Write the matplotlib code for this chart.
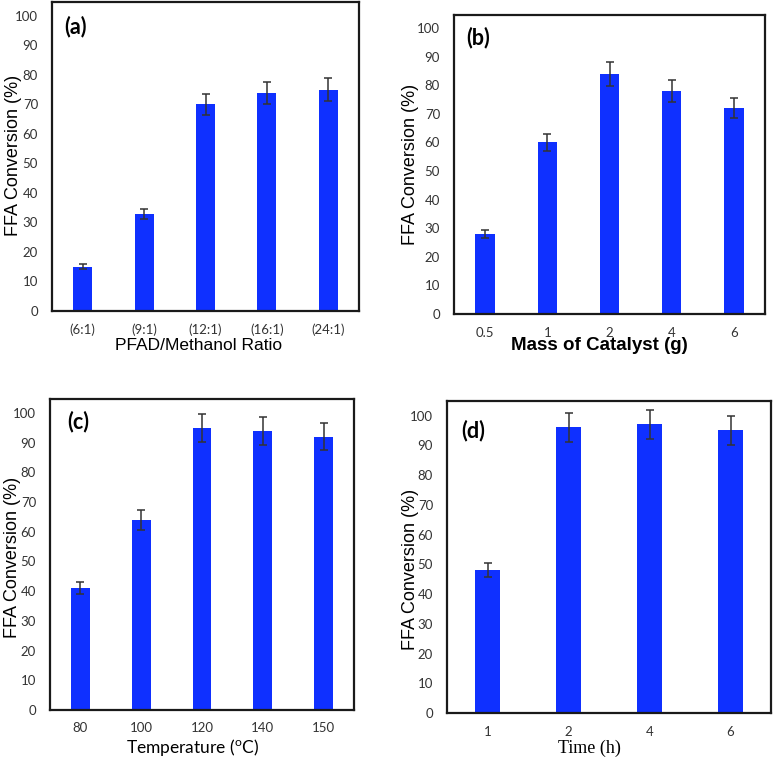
import matplotlib
matplotlib.use("Agg")
import matplotlib.pyplot as plt
import numpy as np

W, H = 773, 760

# ---- data ----
ratio_labels = ["(6:1)", "(9:1)", "(12:1)", "(16:1)", "(24:1)"]
ratio_vals = [15, 33, 70, 74, 75]
ratio_err = [0.8, 1.7, 3.5, 3.7, 3.8]

mass_labels = ["0.5", "1", "2", "4", "6"]
mass_vals = [28, 60, 84, 78, 72]
mass_err = [1.5, 3.0, 4.2, 4.0, 3.6]

temp_labels = ["80", "100", "120", "140", "150"]
temp_vals = [41, 64, 95, 94, 92]
temp_err = [2.1, 3.3, 4.8, 4.7, 4.6]

time_labels = ["1", "2", "4", "6"]
time_vals = [48, 96, 97, 95]
time_err = [2.4, 4.8, 4.9, 4.8]

BAR = "#0f30ff"
ERR = "#333333"
TICKC = "#333333"

fig = plt.figure(figsize=(W / 100, H / 100), dpi=100)


def px_axes(l, t, r, b):
    return fig.add_axes([l / W, 1 - b / H, (r - l) / W, (b - t) / H])


def panel(box, labels, vals, errs, ytop, tag, tagpos):
    ax = px_axes(*box)
    x = np.arange(len(labels))
    ax.bar(x, vals, width=0.31, color=BAR, zorder=2)
    ax.errorbar(x, vals, yerr=errs, fmt="none", ecolor=ERR, elinewidth=1.1,
                capsize=2.7, capthick=1.1, zorder=3)
    ax.set_xlim(-0.5, len(labels) - 0.5)
    ax.set_ylim(0, ytop)
    ax.set_yticks(np.arange(0, 101, 10))
    ax.set_xticks(x)
    ax.set_xticklabels(labels)
    ax.tick_params(length=0, labelsize=9.5, labelcolor=TICKC)
    ax.tick_params(axis="y", pad=10)
    ax.tick_params(axis="x", pad=9)
    for lab in ax.get_xticklabels() + ax.get_yticklabels():
        lab.set_fontfamily("Lato")
    for s in ax.spines.values():
        s.set_linewidth(1.6)
        s.set_color("#1a1a1a")
    tx, ty = tagpos
    fig.text(tx / W, 1 - ty / H, tag, fontsize=15.5, fontweight="bold",
             family="Lato", ha="left", va="center")
    return ax


panel((52, 2, 359, 311), ratio_labels, ratio_vals, ratio_err, 104.7, "(a)", (64, 27))
panel((454, 15, 765, 314), mass_labels, mass_vals, mass_err, 104.6, "(b)", (466, 38))
panel((50, 399, 354, 710), temp_labels, temp_vals, temp_err, 104.7, "(c)", (67, 422))
panel((447, 401, 771, 713), time_labels, time_vals, time_err, 104.9, "(d)", (461, 431))

# y labels (x = baseline position in pixels, y = centre of text)
for (xp, yp) in [(18, 155), (415, 164), (17, 557), (415, 569)]:
    fig.text(xp / W, 1 - yp / H, "FFA Conversion (%)", rotation=90,
             rotation_mode="anchor", ha="center", va="baseline",
             fontsize=13, family="Liberation Sans")

# x labels
fig.text(199 / W, 1 - 346 / H, "PFAD/Methanol Ratio", ha="center", va="center",
         fontsize=12.5, family="Liberation Sans")
fig.text(599 / W, 1 - 346 / H, "Mass of Catalyst (g)", ha="center", va="center",
         fontsize=13.5, fontweight="bold", family="Liberation Sans")
fig.text(193 / W, 1 - 747 / H, r"Temperature ($^{\mathregular{o}}$C)", ha="center",
         va="center", fontsize=12.5, family="Lato")
fig.text(589 / W, 1 - 748 / H, "Time (h)", ha="center", va="center",
         fontsize=13, family="Liberation Serif")

fig.savefig("out.png", dpi=100)
